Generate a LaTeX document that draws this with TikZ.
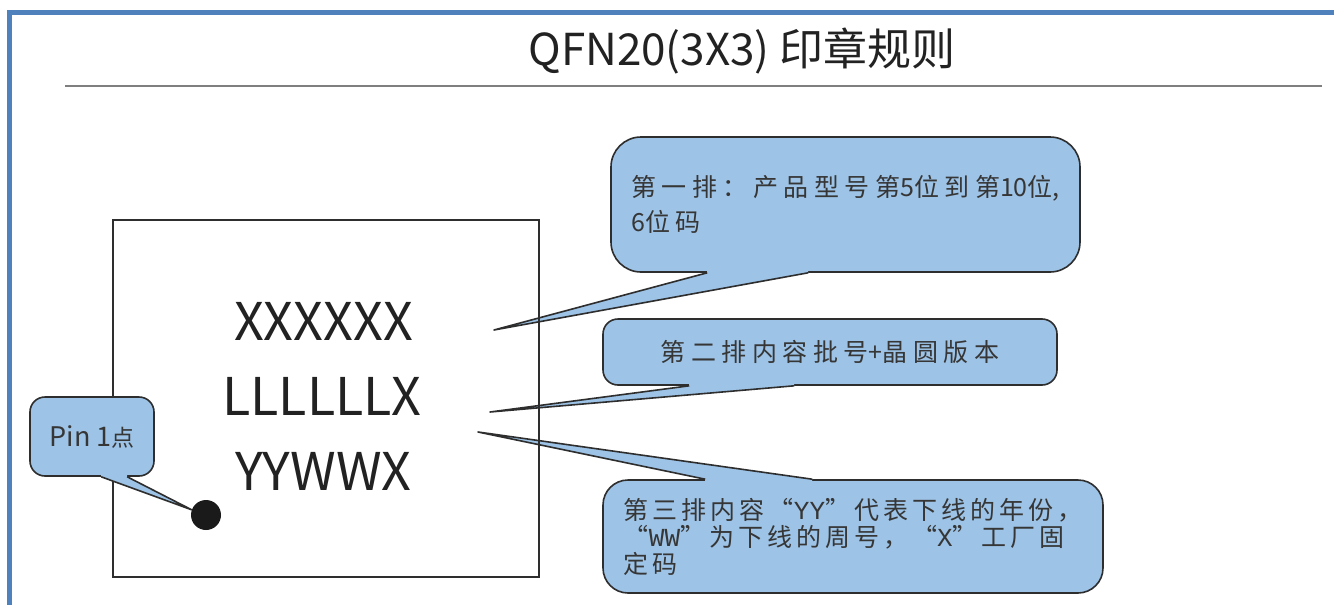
\documentclass[tikz,border=0pt]{standalone}
\usepackage{fontspec}
\setmainfont{Noto Sans CJK SC}
\newfontfamily\monofont{Liberation Mono}
\usetikzlibrary{calc}
\definecolor{frameblue}{HTML}{4F81BD}
\definecolor{callfill}{HTML}{9DC3E6}
\definecolor{edge}{HTML}{2E2E2E}
\definecolor{ink}{HTML}{363636}
\definecolor{chipink}{HTML}{222222}
\definecolor{rulegray}{HTML}{7F7F7F}
\definecolor{dotblack}{HTML}{1A1A1A}
\newcommand{\ls}{\kern5.5pt}
\newcommand{\lt}{\kern4pt}
\newcommand{\qo}{\makebox[25pt][r]{“}}
\newcommand{\qc}{\makebox[25pt][l]{”}}
\newcommand{\mono}[1]{{\monofont\fontsize{26}{26}\selectfont #1}}
\pgfdeclarelayer{backdrop}
\pgfdeclarelayer{tails}
\pgfdeclarelayer{chiplayer}
\pgfsetlayers{backdrop,tails,chiplayer,main}
\newcommand{\calltail}[4]{%
  \begin{pgfonlayer}{tails}
    \fill[callfill] (#1) -- (#2) -- (#3) -- cycle;
  \end{pgfonlayer}
  \fill[callfill] (#1) -- ($(#1)!0.2!(#2)$) -- ($(#3)!0.2!(#2)$) -- (#3) -- ($(#3)+#4$) -- ($(#1)+#4$) -- cycle;
  \draw[tailedge] (#1) -- (#2) -- (#3);
}
\begin{document}
\begin{tikzpicture}[x=1pt,y=-1pt,
  callbody/.style={fill=callfill, draw=edge, line width=1.6pt, inner sep=0pt, align=left, text=ink},
  tailedge/.style={draw=edge, line width=1.6pt, line join=round},
  chiptext/.style={text=chipink, font=\fontsize{52}{52}\selectfont, inner sep=0pt, anchor=base}]
\useasboundingbox (0,0) rectangle (1334,605);
\begin{pgfonlayer}{backdrop}
\fill[white] (0,0) rectangle (1334,605);
\end{pgfonlayer}
% frame
\draw[frameblue, line width=4.5pt, line join=miter] (9.5,605) -- (9.5,12.5) -- (1334,12.5);
% title and rule
\node[anchor=base, font=\fontsize{44}{44}\selectfont, text=chipink, inner sep=0pt] (title) at (742,65) {QFN20(3X3) 印章规则};
\draw[rulegray, line width=1.3pt] (65,86) -- (1322,86);
% chip
\begin{pgfonlayer}{chiplayer}
\node[draw=edge, line width=1.6pt, minimum width=426pt, minimum height=357pt, inner sep=0pt] (chip) at (326,398.5) {};
\node[chiptext] (r1) at (323.5,340) {XXXXXX};
\node[chiptext] (r2) at (322,415) {LLLLLLX};
\node[chiptext] (r3) at (323.5,490) {YYWWX};
\node[circle, fill=dotblack, inner sep=0pt, minimum size=30pt] (dot) at (206,515) {};
\end{pgfonlayer}
% callout bodies
\node[callbody, rounded corners=30pt, minimum width=469pt, minimum height=135pt, font=\fontsize{25}{35}\selectfont] (c1) at (845.5,204.5)
  {第\ls 一\ls 排\ls ：\ls 产\ls 品\ls 型\ls 号\ls 第5位\ls 到\ls 第10位,\\6位\ls 码};
\node[callbody, rounded corners=15pt, minimum width=454pt, minimum height=66pt, font=\fontsize{25}{30}\selectfont] (c2) at (830,352)
  {第\ls 二\ls 排\ls 内\ls 容\ls 批\ls 号+晶\ls 圆\ls 版\ls 本};
\node[callbody, rounded corners=25pt, minimum width=500pt, minimum height=113pt, font=\fontsize{25}{27}\selectfont] (c3) at (853,536.5)
  {第\lt 三\lt 排\lt 内\lt 容\lt \qo\mono{YY}\qc\lt 代\lt 表\lt 下\lt 线\lt 的\lt 年\lt 份\lt ，\\
   \qo\mono{WW}\qc\lt 为\lt 下\lt 线\lt 的\lt 周\lt 号\lt ，\lt \qo\mono{X}\qc\lt 工\lt 厂\lt 固\\
   定\lt 码};
\node[callbody, rounded corners=15pt, minimum width=124pt, minimum height=79pt, font=\fontsize{27}{27}\selectfont] (pin) at (92,436.5)
  {Pin 1{\fontsize{23}{23}\selectfont 点}};
% tail coordinates
\coordinate (t1) at (494,330);
\coordinate (t2) at (490,412);
\coordinate (t3) at (478,432);
\coordinate (tp) at (dot.160);
\coordinate (b11) at ($(c1.south west)+(97,0)$);
\coordinate (b12) at ($(c1.south west)+(198,0)$);
\coordinate (b21) at ($(c2.south west)+(87,0)$);
\coordinate (b22) at ($(c2.south west)+(192,0)$);
\coordinate (b31) at ($(c3.north west)+(103,0)$);
\coordinate (b32) at ($(c3.north west)+(210,0)$);
\coordinate (bp1) at ($(pin.south west)+(72,0)$);
\coordinate (bp2) at ($(pin.south west)+(98,0)$);
\calltail{b11}{t1}{b12}{(0,-3)}
\calltail{b21}{t2}{b22}{(0,-3)}
\calltail{b31}{t3}{b32}{(0,3)}
\calltail{bp1}{tp}{bp2}{(0,-3)}
\end{tikzpicture}
\end{document}
